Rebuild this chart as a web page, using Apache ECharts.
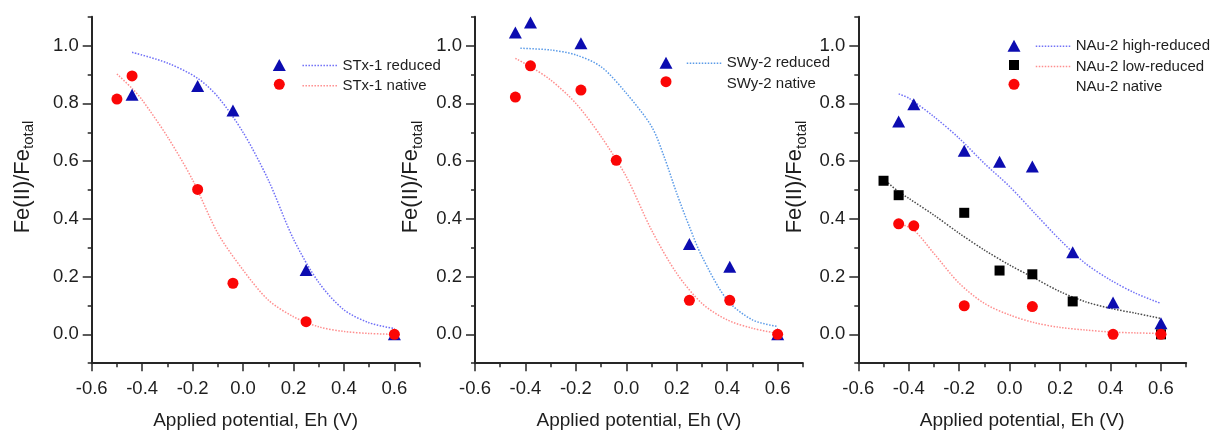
<!DOCTYPE html>
<html><head><meta charset="utf-8">
<script src="https://cdn.jsdelivr.net/npm/echarts@6/dist/echarts.min.js"></script>
<style>html,body{margin:0;padding:0;background:#fff}#c{width:1213px;height:431px}</style>
</head><body><div id="c"></div>
<script>
// ---- tick labels ----
const xTicks = [-0.6, -0.4, -0.2, 0, 0.2, 0.4, 0.6];
const yTicks = [0, 0.2, 0.4, 0.6, 0.8, 1.0];

// ---- Panel 1: STx-1 ----
const stxReduced = [[-0.44,0.83],[-0.18,0.86],[-0.04,0.775],[0.25,0.223],[0.6,0.0]];
const stxNative = [[-0.5,0.815],[-0.44,0.895],[-0.18,0.502],[-0.04,0.177],[0.25,0.044],[0.6,0.0]];
const stxReducedFit = [[-0.44,0.977],[-0.3,0.94],[-0.18,0.887],[-0.1,0.823],[0,0.70],[0.1,0.535],[0.2,0.33],[0.3,0.18],[0.4,0.085],[0.5,0.04],[0.6,0.02]];
const stxNativeFit = [[-0.5,0.902],[-0.44,0.852],[-0.4,0.812],[-0.3,0.685],[-0.2,0.535],[-0.1,0.35],[0,0.223],[0.1,0.119],[0.2,0.061],[0.3,0.026],[0.4,0.01],[0.5,0.003],[0.6,0.0]];

// ---- Panel 2: SWy-2 ----
const swyReduced = [[-0.44,1.046],[-0.38,1.08],[-0.18,1.008],[0.25,0.313],[0.41,0.234],[0.6,0.0]];
const swyNative = [[-0.44,0.822],[-0.38,0.93],[-0.18,0.846],[-0.04,0.603],[0.25,0.118],[0.41,0.118],[0.6,0.0]];
const swyReducedFit = [[-0.42,0.991],[-0.3,0.985],[-0.2,0.968],[-0.1,0.927],[0,0.835],[0.1,0.72],[0.15,0.615],[0.2,0.488],[0.25,0.373],[0.3,0.269],[0.4,0.119],[0.5,0.05],[0.6,0.027]];
const swyNativeFit = [[-0.44,0.956],[-0.38,0.927],[-0.3,0.881],[-0.2,0.80],[-0.1,0.685],[0,0.546],[0.1,0.361],[0.2,0.211],[0.3,0.107],[0.4,0.05],[0.5,0.021],[0.6,0.003]];

// ---- Panel 3: NAu-2 ----
const nauHigh = [[-0.44,0.737],[-0.38,0.797],[-0.18,0.636],[-0.04,0.598],[0.09,0.581],[0.25,0.284],[0.41,0.11],[0.6,0.038]];
const nauLow = [[-0.5,0.532],[-0.44,0.482],[-0.18,0.421],[-0.04,0.221],[0.09,0.208],[0.25,0.114],[0.6,0.0]];
const nauNative = [[-0.44,0.383],[-0.38,0.376],[-0.18,0.099],[0.09,0.096],[0.41,0.0],[0.6,0.0]];
const nauHighFit = [[-0.44,0.833],[-0.4,0.818],[-0.3,0.754],[-0.2,0.679],[-0.1,0.592],[0,0.512],[0.1,0.419],[0.2,0.327],[0.3,0.246],[0.4,0.188],[0.5,0.142],[0.6,0.107]];
const nauLowFit = [[-0.5,0.538],[-0.44,0.494],[-0.4,0.471],[-0.3,0.413],[-0.2,0.35],[-0.1,0.292],[0,0.24],[0.1,0.194],[0.2,0.148],[0.3,0.113],[0.4,0.09],[0.5,0.073],[0.6,0.055]];
const nauNativeFit = [[-0.44,0.385],[-0.38,0.361],[-0.3,0.28],[-0.2,0.177],[-0.1,0.107],[0,0.067],[0.1,0.04],[0.2,0.024],[0.3,0.015],[0.4,0.008],[0.5,0.005],[0.6,0.003]];

const FONT = "'Liberation Sans', Arial, sans-serif";
const TXT = '#1e1e1e';
const AX = '#262626';
const BLUE = '#0c0cb0';
const RED = '#fb0606';

const gridLefts = [91.7, 475, 858.3];
const yNameGaps = [55, 50, 49];

const grids = [], xAxes = [], yAxes = [];
const evenFmt = v => (Math.round(v * 10) % 2 === 0 ? v.toFixed(1) : '');
gridLefts.forEach((left, g) => {
  grids.push({left: left, top: 16.8, width: 327.9, height: 346.4, containLabel: false, outerBoundsMode: 'none'});
  xAxes.push({
    gridIndex: g, type: 'value', position: 'bottom', min: -0.6, max: 0.7, interval: 0.1,
    axisLine: {onZero: false, lineStyle: {color: AX, width: 2}},
    axisTick: {length: 4, lineStyle: {color: AX, width: 1.5}},
    axisLabel: {margin: 16, fontSize: 18.5, color: TXT, fontFamily: FONT, formatter: evenFmt},
    splitLine: {show: false},
    name: 'Applied potential, Eh (V)', nameLocation: 'middle', nameGap: 48,
    nameTextStyle: {fontSize: 19, color: TXT, fontFamily: FONT}
  });
  xAxes.push({
    gridIndex: g, type: 'value', position: 'bottom', offset: 0, min: -0.6, max: 0.7, interval: 0.1,
    axisLine: {show: false, onZero: false},
    axisTick: {show: true, length: 8, customValues: xTicks, lineStyle: {color: AX, width: 1.5}},
    axisLabel: {show: false}, splitLine: {show: false}
  });
  yAxes.push({
    gridIndex: g, type: 'value', position: 'left', min: -0.1, max: 1.1, interval: 0.1,
    axisLine: {onZero: false, lineStyle: {color: AX, width: 2}},
    axisTick: {length: 4, lineStyle: {color: AX, width: 1.5}},
    axisLabel: {margin: 13, fontSize: 18.5, color: TXT, fontFamily: FONT, formatter: evenFmt},
    splitLine: {show: false},
    name: '{a|Fe(II)/Fe}{b|total}', nameLocation: 'middle', nameRotate: 90, nameGap: yNameGaps[g],
    nameTextStyle: {
      color: TXT, fontFamily: FONT, padding: [0, 0, 0, 26],
      rich: {
        a: {fontSize: 22, fontFamily: FONT, color: TXT},
        b: {fontSize: 15, fontFamily: FONT, color: TXT, padding: [13, 0, 0, 0]}
      }
    }
  });
  yAxes.push({
    gridIndex: g, type: 'value', position: 'left', offset: 0, min: -0.1, max: 1.1, interval: 0.1,
    axisLine: {show: false, onZero: false},
    axisTick: {show: true, length: 9, customValues: yTicks, lineStyle: {color: AX, width: 1.5}},
    axisLabel: {show: false}, splitLine: {show: false}
  });
});

function sc(name, data, g, symbol, size, color) {
  return {type: 'scatter', name, data, xAxisIndex: 2 * g, yAxisIndex: 2 * g, symbol, symbolSize: size,
    itemStyle: {color, opacity: 1}, z: 3, clip: false, silent: true};
}
function fit(name, data, g, color) {
  return {type: 'line', name, data, xAxisIndex: 2 * g, yAxisIndex: 2 * g, symbol: 'none', smooth: 0.3,
    lineStyle: {color, width: 1.5, type: 'dotted'}, z: 2, silent: true};
}

const series = [
  fit('STx-1 reduced fit', stxReducedFit, 0, '#6f6ff7'),
  fit('STx-1 native fit', stxNativeFit, 0, '#ff8e8e'),
  sc('STx-1 reduced', stxReduced, 0, 'triangle', [13, 12], BLUE),
  sc('STx-1 native', stxNative, 0, 'circle', 11, RED),

  fit('SWy-2 reduced fit', swyReducedFit, 1, '#5b9be8'),
  fit('SWy-2 native fit', swyNativeFit, 1, '#ff8e8e'),
  sc('SWy-2 reduced', swyReduced, 1, 'triangle', [13, 12], BLUE),
  sc('SWy-2 native', swyNative, 1, 'circle', 11, RED),

  fit('NAu-2 high-reduced fit', nauHighFit, 2, '#7373f7'),
  fit('NAu-2 low-reduced fit', nauLowFit, 2, '#4a4a4a'),
  fit('NAu-2 native fit', nauNativeFit, 2, '#ff8e8e'),
  sc('NAu-2 high-reduced', nauHigh, 2, 'triangle', [13, 12], BLUE),
  sc('NAu-2 low-reduced', nauLow, 2, 'rect', 10, '#000000'),
  sc('NAu-2 native', nauNative, 2, 'circle', 11, RED)
];

function iconLegend(name, icon, w, h, cx, cy) {
  return {data: [{name, icon}], left: cx - w / 2, top: cy - h / 2, itemWidth: w, itemHeight: h,
    padding: 0, selectedMode: false, formatter: () => '', textStyle: {fontSize: 1}};
}
function lineLegend(items, left, top) {
  return {data: items, left, top, orient: 'vertical', itemWidth: 35, itemHeight: 14, itemGap: 5.3,
    padding: 0, selectedMode: false, formatter: n => n.replace(' fit', ''),
    textStyle: {fontSize: 15, color: TXT, fontFamily: FONT, lineHeight: 14},
    itemStyle: {opacity: 0}, lineStyle: {type: 'dotted', width: 1.5}};
}

const legends = [
  iconLegend('STx-1 reduced', 'triangle', 13, 12, 279.3, 65),
  iconLegend('STx-1 native', 'circle', 11, 11, 279.3, 84.3),
  lineLegend([{name: 'STx-1 reduced fit'}, {name: 'STx-1 native fit'}], 301.7, 58),

  iconLegend('SWy-2 reduced', 'triangle', 13, 12, 666, 62.7),
  iconLegend('SWy-2 native', 'circle', 11, 11, 666, 81.7),
  lineLegend([{name: 'SWy-2 reduced fit'}, {name: 'SWy-2 native fit', lineStyle: {opacity: 0}}], 686, 55.7),

  iconLegend('NAu-2 high-reduced', 'triangle', 13, 12, 1014, 45.7),
  iconLegend('NAu-2 low-reduced', 'rect', 10, 10, 1014, 65),
  iconLegend('NAu-2 native', 'circle', 11, 11, 1014, 84.3),
  lineLegend([{name: 'NAu-2 high-reduced fit'}, {name: 'NAu-2 low-reduced fit', lineStyle: {color: '#ff8e8e'}}, {name: 'NAu-2 native fit', lineStyle: {opacity: 0}}], 1035, 38.7)
];

const chart = echarts.init(document.getElementById('c'), null, {renderer: 'canvas'});
chart.setOption({
  animation: false,
  backgroundColor: '#ffffff',
  grid: grids, xAxis: xAxes, yAxis: yAxes,
  legend: legends,
  series
});
</script>
</body></html>
